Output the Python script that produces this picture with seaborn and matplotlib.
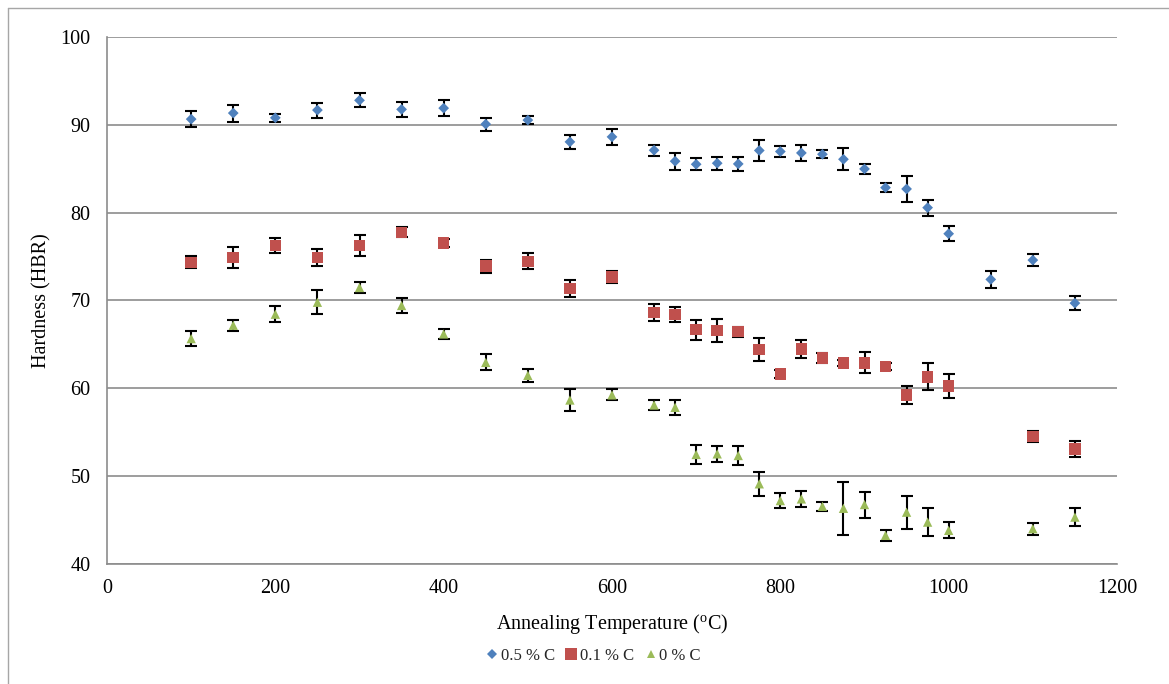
import numpy as np
import pandas as pd
import matplotlib
matplotlib.use("Agg")
import matplotlib.pyplot as plt
from matplotlib.lines import Line2D
import seaborn as sns

# ---------------- data ----------------
temp_05 = [100, 150, 200, 250, 300, 350, 400, 450, 500, 550, 600, 650, 675, 700, 725,
           750, 775, 800, 825, 850, 875, 900, 925, 950, 975, 1000, 1050, 1100, 1150]
hard_05 = [90.65, 91.34, 90.8, 91.68, 92.79, 91.76, 91.9, 90.08, 90.54, 88.06, 88.63,
           87.11, 85.86, 85.51, 85.63, 85.55, 87.08, 86.96, 86.8, 86.65, 86.08, 84.98,
           82.85, 82.7, 80.57, 77.6, 72.4, 74.6, 69.7]
err_05 = [0.9, 0.97, 0.47, 0.85, 0.8, 0.84, 0.95, 0.74, 0.45, 0.8, 0.93, 0.65, 0.97,
          0.66, 0.74, 0.76, 1.24, 0.63, 0.91, 0.46, 1.24, 0.53, 0.5, 1.43, 0.9, 0.86,
          0.97, 0.65, 0.82]

temp_01 = [100, 150, 200, 250, 300, 350, 400, 450, 500, 550, 600, 650, 675, 700, 725,
           750, 775, 800, 825, 850, 875, 900, 925, 950, 975, 1000, 1100, 1150]
hard_01 = [74.34, 74.9, 76.28, 74.9, 76.28, 77.76, 76.54, 73.9, 74.45, 71.37, 72.7,
           68.63, 68.4, 66.69, 66.58, 66.46, 64.4, 61.64, 64.5, 63.47, 62.9, 62.9,
           62.5, 59.25, 61.3, 60.27, 54.52, 53.08]
err_01 = [0.68, 1.18, 0.87, 1.0, 1.16, 0.57, 0.48, 0.72, 0.91, 1.0, 0.66, 0.95, 0.86,
          1.14, 1.33, 0.57, 1.3, 0.5, 1.03, 0.55, 0.37, 1.2, 0.36, 1.05, 1.54, 1.4,
          0.66, 0.93]

temp_00 = [100, 150, 200, 250, 300, 350, 400, 450, 500, 550, 600, 650, 675, 700, 725,
           750, 775, 800, 825, 850, 875, 900, 925, 950, 975, 1000, 1100, 1150]
hard_00 = [65.66, 67.18, 68.44, 69.8, 71.48, 69.43, 66.19, 62.95, 61.48, 58.67, 59.25,
           58.1, 57.84, 52.47, 52.54, 52.35, 49.13, 47.22, 47.41, 46.57, 46.34, 46.77,
           43.26, 45.9, 44.77, 43.83, 44.02, 45.34]
err_00 = [0.82, 0.61, 0.91, 1.35, 0.66, 0.8, 0.61, 0.91, 0.74, 1.22, 0.63, 0.53, 0.88,
          1.1, 0.9, 1.07, 1.37, 0.82, 0.91, 0.51, 3.0, 1.48, 0.65, 1.87, 1.55, 0.91,
          0.68, 1.02]

series_names = ["0.5 % C", "0.1 % C", "0 % C"]
series_colors = ["#4F81BD", "#C0504D", "#9BBB59"]
series_markers = ["D", "s", "^"]
series_sizes = [30, 70, 45]

x_ticks = [0, 200, 400, 600, 800, 1000, 1200]
y_ticks = [40, 50, 60, 70, 80, 90, 100]

# ---------------- style ----------------
sns.set_theme(style="white")
plt.rcParams["font.family"] = ["Liberation Serif", "DejaVu Serif"]
plt.rcParams["mathtext.fontset"] = "custom"
plt.rcParams["mathtext.rm"] = "Liberation Serif"

W, H = 1169, 684
fig = plt.figure(figsize=(W / 100, H / 100), dpi=100)
fig.patch.set_facecolor("white")
ax = fig.add_axes([107 / W, 1 - 564 / H, 1010 / W, 527 / H])

frames = []
for name, t, h, e in [(series_names[0], temp_05, hard_05, err_05),
                      (series_names[1], temp_01, hard_01, err_01),
                      (series_names[2], temp_00, hard_00, err_00)]:
    frames.append(pd.DataFrame({"T": t, "HBR": h, "err": e, "series": name}))
df = pd.concat(frames, ignore_index=True)

# error bars
for name in series_names:
    d = df[df["series"] == name]
    ax.errorbar(d["T"], d["HBR"], yerr=d["err"], fmt="none", ecolor="black",
                elinewidth=1.5, capsize=4.3, capthick=1.5, zorder=2)

# markers via seaborn
for name, c, m, s in zip(series_names, series_colors, series_markers, series_sizes):
    d = df[df["series"] == name]
    sns.scatterplot(data=d, x="T", y="HBR", color=c, marker=m, s=s,
                    edgecolor="none", linewidth=0, ax=ax, zorder=3, legend=False)

ax.set_xlim(0, 1200)
ax.set_ylim(40, 100)
ax.set_xticks(x_ticks)
ax.set_yticks(y_ticks)
ax.set_xticklabels([str(v) for v in x_ticks])
ax.set_yticklabels([str(v) for v in y_ticks])
ax.tick_params(axis="both", length=0, labelsize=14.5, colors="black")
ax.tick_params(axis="y", pad=12)
ax.tick_params(axis="x", pad=11)

ax.grid(axis="y", color="#8c8c8c", linewidth=1.2)
ax.grid(axis="x", visible=False)
ax.set_axisbelow(True)
for side in ["top", "right"]:
    ax.spines[side].set_visible(False)
ax.spines["left"].set_color("#8c8c8c")
ax.spines["left"].set_linewidth(1.2)
ax.spines["bottom"].set_color("#8c8c8c")
ax.spines["bottom"].set_linewidth(1.2)

ax.set_xlabel(r"Annealing Temperature ($\mathregular{^{o}}$C)", fontsize=14.5,
              color="black", labelpad=10)
ax.set_ylabel("Hardness (HBR)", fontsize=14.5, color="black", labelpad=6)

# legend
handles = [Line2D([], [], linestyle="none", marker=m, color=c, markersize=ms,
                  markeredgewidth=0)
           for m, c, ms in zip(series_markers, series_colors, [5, 8, 6])]
fig.legend(handles, series_names, loc="center", bbox_to_anchor=(593 / W, 1 - 656 / H),
           ncol=3, frameon=False, fontsize=12, handletextpad=0.1, columnspacing=0.6,
           handlelength=0.8)

# outer chart frame
fig.add_artist(Line2D([7.5 / W, 7.5 / W], [0, 1 - 8 / H], transform=fig.transFigure,
                      color="#a6a6a6", linewidth=1))
fig.add_artist(Line2D([7.5 / W, 1], [1 - 8 / H, 1 - 8 / H], transform=fig.transFigure,
                      color="#a6a6a6", linewidth=1))

fig.savefig("out.png", dpi=100)
